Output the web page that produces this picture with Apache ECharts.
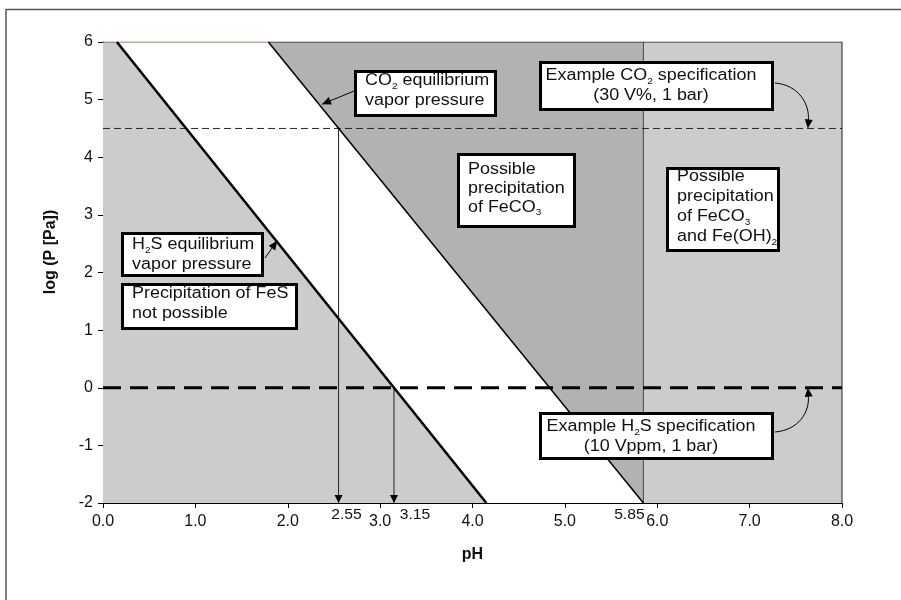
<!DOCTYPE html>
<html>
<head>
<meta charset="utf-8">
<script src="https://cdn.jsdelivr.net/npm/echarts@6/dist/echarts.min.js"></script>
<style>
  html, body { margin: 0; padding: 0; background: #ffffff; }
  #chart { width: 901px; height: 600px; }
</style>
</head>
<body>
<div id="chart"></div>
<script>
// ---- Data -------------------------------------------------------------
// Axis ticks
const phTicks = [0, 1, 2, 3, 4, 5, 6, 7, 8];
const logPTicks = [-2, -1, 0, 1, 2, 3, 4, 5, 6];

// Equilibrium vapour pressure lines, as [pH, log P] end points
const h2sLine = [[0.15, 6], [4.15, -2]];
const co2Line = [[1.79, 6], [5.85, -2]];

// pH above which Fe(OH)2 may precipitate as well
const hydroxidePH = 5.85;

// Example specifications (log P [Pa])
const co2SpecLogP = 4.5;   // 30 V%, 1 bar
const h2sSpecLogP = 0;     // 10 Vppm, 1 bar

// pH where each specification meets its equilibrium line
const co2CrossPH = 2.55;
const h2sCrossPH = 3.15;

// ---- Derived ranges / regions ----------------------------------------
const xMin = phTicks[0], xMax = phTicks[phTicks.length - 1];
const yMin = logPTicks[0], yMax = logPTicks[logPTicks.length - 1];

const regions = [
  // FeS cannot precipitate: left of the H2S line
  { pts: [[xMin, yMax], h2sLine[0], h2sLine[1], [xMin, yMin]], fill: '#cccccc' },
  // FeCO3 possible: right of the CO2 line up to the hydroxide pH
  { pts: [co2Line[0], [hydroxidePH, yMax], co2Line[1]], fill: '#b2b2b2' },
  // FeCO3 and Fe(OH)2 possible
  { pts: [[hydroxidePH, yMax], [xMax, yMax], [xMax, yMin], [hydroxidePH, yMin]], fill: '#cccccc' }
];

// pH on a straight line at a given log P
function phOnLine(line, logP) {
  const [a, b] = line;
  return a[0] + (logP - a[1]) * (b[0] - a[0]) / (b[1] - a[1]);
}

// ---- Styling ----------------------------------------------------------
const FONT = '"Liberation Sans", Arial, Helvetica, sans-serif';
const STRETCH = 1.12;      // slightly wide lettering of the annotations
const INK = '#111111';

const chart = echarts.init(document.getElementById('chart'), null, { renderer: 'canvas' });

function simpleLine(name, data, style, z) {
  return {
    name, type: 'line', data, showSymbol: false, symbol: 'none',
    silent: true, animation: false, z: z || 3,
    lineStyle: style
  };
}

chart.setOption({
  animation: false,
  backgroundColor: '#ffffff',
  grid: { left: 103, right: 59, top: 42, bottom: 97, containLabel: false },
  xAxis: {
    type: 'value', min: xMin, max: xMax, interval: 1,
    name: 'pH', nameLocation: 'middle', nameGap: 44,
    nameTextStyle: { fontFamily: FONT, fontWeight: 'bold', fontSize: 16, color: INK },
    axisLine: { show: true, onZero: false, lineStyle: { color: '#000', width: 1 } },
    axisTick: { show: true, inside: false, length: 5, lineStyle: { color: '#000' } },
    axisLabel: { fontFamily: FONT, fontSize: 16, color: INK, margin: 11,
                 formatter: v => v.toFixed(1) },
    splitLine: { show: false }
  },
  yAxis: {
    type: 'value', min: yMin, max: yMax, interval: 1,
    axisLine: { show: true, onZero: false, lineStyle: { color: '#000', width: 1 } },
    axisTick: { show: true, inside: false, length: 5, lineStyle: { color: '#000' } },
    axisLabel: { fontFamily: FONT, fontSize: 16, color: INK, margin: 10 },
    splitLine: { show: false }
  },
  series: [
    {
      name: 'regions', type: 'custom', silent: true, animation: false, z: 1,
      data: regions.map((r, i) => [i]),
      encode: { x: -1, y: -1 },
      renderItem: (params, api) => {
        const r = regions[params.dataIndex];
        return {
          type: 'polygon',
          shape: { points: r.pts.map(p => api.coord(p)) },
          style: { fill: r.fill, stroke: null }
        };
      }
    },
    simpleLine('hydroxide boundary', [[hydroxidePH, yMax], [hydroxidePH, yMin]],
               { color: '#444', width: 1 }, 2),
    simpleLine('frame', [[co2Line[0][0], yMax], [xMax, yMax], [xMax, yMin]],
               { color: '#222', width: 1 }, 4),
    simpleLine('frame top', [[xMin, yMax], [co2Line[0][0], yMax]],
               { color: '#9a4a3a', width: 1 }, 4),
    simpleLine('CO2 spec', [[xMin, co2SpecLogP], [xMax, co2SpecLogP]],
               { color: '#222', width: 1, type: [7, 4] }, 3),
    simpleLine('H2S spec', [[xMin, h2sSpecLogP], [xMax, h2sSpecLogP]],
               { color: '#000', width: 3, type: [18, 9] }, 3),
    simpleLine('CO2 crossing', [[co2CrossPH, co2SpecLogP], [co2CrossPH, yMin]],
               { color: '#222', width: 1 }, 3),
    simpleLine('H2S crossing', [[h2sCrossPH, h2sSpecLogP], [h2sCrossPH, yMin]],
               { color: '#222', width: 1 }, 3),
    simpleLine('CO2 equilibrium', co2Line, { color: '#000', width: 1.5 }, 5),
    simpleLine('H2S equilibrium', h2sLine, { color: '#000', width: 2.5 }, 5)
  ]
});

// ---- Annotations ------------------------------------------------------
const px = p => chart.convertToPixel({ gridIndex: 0 }, p);

const richSub = {
  s: { fontSize: 9, fontFamily: FONT, fill: INK, lineHeight: 10, verticalAlign: 'bottom' }
};

function textEl(text, x, y, opts) {
  opts = opts || {};
  return {
    type: 'text', x, y, scaleX: opts.stretch === false ? 1 : STRETCH,
    rotation: opts.rotation || 0, z: 100,
    style: {
      text, fill: INK, fontFamily: FONT,
      fontSize: opts.fontSize || 16, fontWeight: opts.bold ? 'bold' : 'normal',
      lineHeight: opts.lineHeight || 20,
      align: opts.align || 'left', verticalAlign: opts.vAlign || 'middle',
      textAlign: opts.align || 'left', textVerticalAlign: opts.vAlign || 'middle',
      rich: richSub
    }
  };
}

const boxes = [
  { rect: [354, 70, 143, 47], text: 'CO{s|2} equilibrium\nvapor pressure', tx: 365, ty: 91, align: 'left' },
  { rect: [539, 61, 235, 50], text: 'Example CO{s|2} specification\n(30 V%, 1 bar)', tx: 651, ty: 86, align: 'center' },
  { rect: [457, 153, 119, 75], text: 'Possible\nprecipitation\nof FeCO{s|3}', tx: 468, ty: 189, align: 'left', lh: 19 },
  { rect: [666, 167, 114, 85], text: 'Possible\nprecipitation\nof FeCO{s|3}\nand Fe(OH){s|2}', tx: 677, ty: 207, align: 'left' },
  { rect: [121, 232, 143, 45], text: 'H{s|2}S equilibrium\nvapor pressure', tx: 132, ty: 255, align: 'left' },
  { rect: [121, 283, 177, 47], text: 'Precipitation of FeS\nnot possible', tx: 132, ty: 304, align: 'left' },
  { rect: [539, 412, 235, 48], text: 'Example H{s|2}S specification\n(10 Vppm, 1 bar)', tx: 651, ty: 437, align: 'center' }
];

function arrowHead(tip, from, len, half) {
  const dx = tip[0] - from[0], dy = tip[1] - from[1];
  const d = Math.hypot(dx, dy) || 1;
  const ux = dx / d, uy = dy / d;
  const bx = tip[0] - ux * len, by = tip[1] - uy * len;
  return {
    type: 'polygon', z: 101, silent: true,
    shape: { points: [tip, [bx - uy * half, by + ux * half], [bx + uy * half, by - ux * half]] },
    style: { fill: '#000' }
  };
}

const g = [];

// Picture frame
g.push({ type: 'polyline', z: 100, silent: true,
         shape: { points: [[6, 600], [6, 9.5], [901, 9.5]] },
         style: { stroke: '#555', lineWidth: 1.5, fill: null } });

// Y axis title
g.push(textEl('log (P [Pa])', 51, 252,
              { bold: true, align: 'center', rotation: Math.PI / 2, stretch: false }));

// Boxes
boxes.forEach(b => {
  const [x, y, w, h] = b.rect;
  g.push({ type: 'rect', z: 99, silent: true,
           shape: { x: x + 1.5, y: y + 1.5, width: w - 3, height: h - 3 },
           style: { fill: '#ffffff', stroke: '#000', lineWidth: 3 } });
  g.push(textEl(b.text, b.tx, b.ty, { align: b.align, lineHeight: b.lh || 20 }));
});

// Straight arrow from the CO2 equilibrium label to its line
{
  const logP = 4.92;
  const tip = px([phOnLine(co2Line, logP), logP]);
  tip[0] += 3;
  const start = [354, 91];
  g.push({ type: 'line', z: 100, silent: true,
           shape: { x1: start[0], y1: start[1], x2: tip[0], y2: tip[1] },
           style: { stroke: '#000', lineWidth: 1 } });
  g.push(arrowHead(tip, start, 9, 4));
}

// Straight arrow from the H2S equilibrium label to its line
{
  const logP = 2.55;
  const tip = px([phOnLine(h2sLine, logP), logP]);
  tip[0] += 1;
  const start = [265, 258];
  g.push({ type: 'line', z: 100, silent: true,
           shape: { x1: start[0], y1: start[1], x2: tip[0], y2: tip[1] },
           style: { stroke: '#000', lineWidth: 1 } });
  g.push(arrowHead(tip, start, 9, 4));
}

// Curved arrows from the specification labels to their dashed lines
function curvedArrow(start, tip, down) {
  const s = down ? 1 : -1;
  const cp1 = [start[0] + 24, start[1] + 2 * s];
  const cp2 = [tip[0] + 2, tip[1] - 24 * s];
  const end = [tip[0] + 0.5, tip[1] - 8 * s];
  g.push({ type: 'bezierCurve', z: 100, silent: true,
           shape: { x1: start[0], y1: start[1], x2: end[0], y2: end[1],
                    cpx1: cp1[0], cpy1: cp1[1], cpx2: cp2[0], cpy2: cp2[1] },
           style: { stroke: '#000', lineWidth: 1, fill: null } });
  g.push(arrowHead(tip, [tip[0] + 1, tip[1] - 10 * s], 9, 4));
}
curvedArrow([775, 83], px([7.63, co2SpecLogP]), true);
curvedArrow([775, 432], px([7.63, h2sSpecLogP]), false);

// Downward arrows at the crossing pH values, with their labels
[[co2CrossPH, 8], [h2sCrossPH, 21]].forEach(([ph, dx]) => {
  const tip = px([ph, yMin]);
  g.push(arrowHead(tip, [tip[0], tip[1] - 20], 8, 4));
  g.push(textEl(ph.toFixed(2), tip[0] + dx, tip[1] + 12, { fontSize: 14, align: 'center' }));
});
{
  const p = px([hydroxidePH, yMin]);
  g.push(textEl(hydroxidePH.toFixed(2), p[0] - 14, p[1] + 12, { fontSize: 14, align: 'center' }));
}

chart.setOption({ graphic: { elements: g } });
</script>
</body>
</html>
